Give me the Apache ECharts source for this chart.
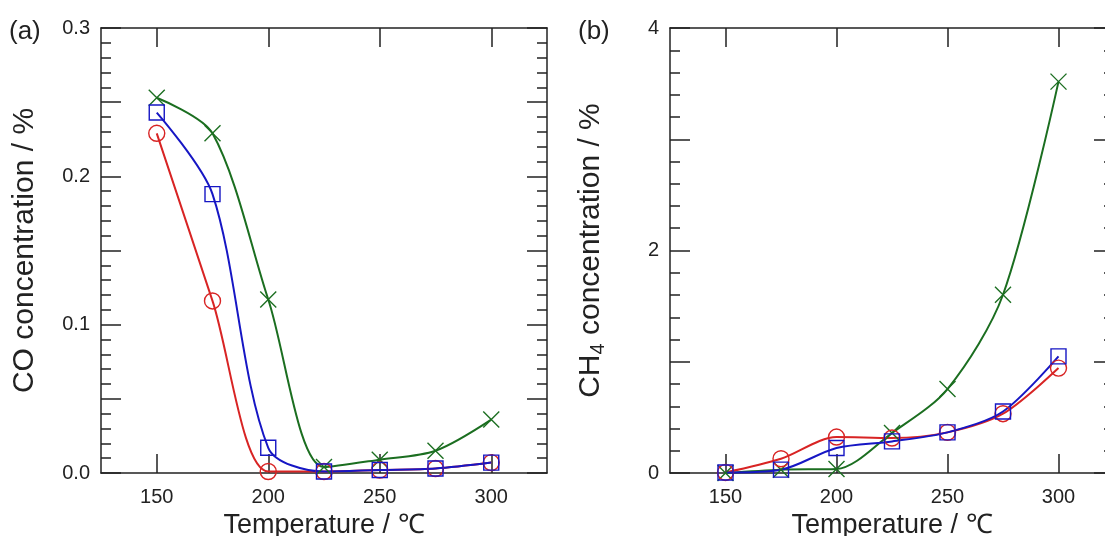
<!DOCTYPE html>
<html>
<head>
<meta charset="utf-8">
<script src="https://cdn.jsdelivr.net/npm/echarts@6/dist/echarts.min.js"></script>
<style>
html, body { margin: 0; padding: 0; background: #fff; }
#chart { width: 1105px; height: 536px; }
</style>
</head>
<body>
<div id="chart"></div>
<script>
// temperatures (deg C)
var temps = [150, 175, 200, 225, 250, 275, 300];

// (a) CO concentration / %
var coRed   = [0.229, 0.116, 0.001, 0.001, 0.002, 0.003, 0.007];
var coBlue  = [0.243, 0.188, 0.017, 0.001, 0.002, 0.003, 0.007];
var coGreen = [0.253, 0.229, 0.117, 0.004, 0.009, 0.015, 0.036];

// (b) CH4 concentration / %
var ch4Red   = [0.005, 0.128, 0.323, 0.314, 0.365, 0.533, 0.943];
var ch4Blue  = [0.005, 0.030, 0.225, 0.284, 0.365, 0.553, 1.048];
var ch4Green = [0.000, 0.030, 0.036, 0.360, 0.755, 1.602, 3.518];

var xTicks = [150, 200, 250, 300];
var coLabels = [0, 0.1, 0.2, 0.3];
var ch4Labels = [0, 2, 4];

var RED = '#d82424', BLUE = '#1616c4', GREEN = '#1b6e20';
var FONT = '"Liberation Sans", Arial, sans-serif';

function pairs(ys){
	var out = [];
	for (var i = 0; i < temps.length; i++) out.push([temps[i], ys[i]]);
	return out;
}

var axisLine = { show: true, onZero: false, lineStyle: { color: '#222', width: 1.5 } };

function xAxis(grid, top){
	return {
		type: 'value', gridIndex: grid, position: top ? 'top' : 'bottom',
		min: 125, max: 325,
		axisLine: axisLine,
		axisTick: { inside: true, length: 19, customValues: xTicks, lineStyle: { color: '#222', width: 1.5 } },
		axisLabel: { show: !top, customValues: xTicks, margin: 14, fontSize: 20, color: '#222', fontFamily: FONT },
		splitLine: { show: false },
		name: top ? '' : 'Temperature / \u2103',
		nameLocation: 'middle', nameGap: 36,
		nameTextStyle: { fontSize: 27, color: '#222', fontFamily: FONT }
	};
}

function yAxis(grid, right, max, interval, labels, fmt, name, gap){
	return {
		type: 'value', gridIndex: grid, position: right ? 'right' : 'left',
		min: 0, max: max, interval: interval,
		axisLine: axisLine,
		axisTick: { inside: true, length: 20, lineStyle: { color: '#222', width: 1.5 } },
		minorTick: { show: true, splitNumber: 5, length: 10, lineStyle: { color: '#222', width: 1.5 } },
		axisLabel: { show: !right, customValues: labels, formatter: fmt, margin: 11, fontSize: 20, color: '#222', fontFamily: FONT },
		splitLine: { show: false },
		name: right ? '' : name,
		nameLocation: 'middle', nameGap: gap,
		nameTextStyle: {
			fontSize: 30, color: '#222', fontFamily: FONT,
			rich: {
				n: { fontSize: 30, color: '#222', fontFamily: FONT },
				s: { fontSize: 20, color: '#222', fontFamily: FONT, verticalAlign: 'bottom', padding: [14, 0, 0, 0] }
			}
		}
	};
}

var marks = {
	red:   { symbol: 'circle', size: 16 },
	blue:  { symbol: 'rect', size: 15 },
	green: { symbol: 'path://M0,0L10,10M0,10L10,0', size: 16 }
};

function line(grid, ys, color, m){
	return {
		type: 'line', xAxisIndex: grid * 2, yAxisIndex: grid * 2,
		data: pairs(ys), smooth: 0.3,
		symbol: m.symbol, symbolSize: m.size, showAllSymbol: true,
		lineStyle: { color: color, width: 2 },
		itemStyle: { color: 'rgba(0,0,0,0)', borderColor: color, borderWidth: 1.4 },
		emphasis: { disabled: true },
		z: 3
	};
}

var chart = echarts.init(document.getElementById('chart'));
chart.setOption({
	animation: false,
	backgroundColor: '#fff',
	textStyle: { fontFamily: FONT },
	grid: [
		{ left: 101, top: 28, right: 558, bottom: 63, outerBoundsMode: 'none', containLabel: false },
		{ left: 670, top: 28, right: -9, bottom: 63, outerBoundsMode: 'none', containLabel: false }
	],
	xAxis: [ xAxis(0, false), xAxis(0, true), xAxis(1, false), xAxis(1, true) ],
	yAxis: [
		yAxis(0, false, 0.3, 0.05, coLabels, function(v){ return v.toFixed(1); }, 'CO concentration / %', 61),
		yAxis(0, true, 0.3, 0.05, coLabels),
		yAxis(1, false, 4, 1, ch4Labels, function(v){ return String(Math.round(v)); }, '{n|CH}{s|4}{n| concentration / %}', 62),
		yAxis(1, true, 4, 1, ch4Labels)
	],
	graphic: [
		{ type: 'text', left: 9, top: 19, style: { text: '(a)', fontSize: 26, fill: '#222', fontFamily: FONT } },
		{ type: 'text', left: 578, top: 19, style: { text: '(b)', fontSize: 26, fill: '#222', fontFamily: FONT } }
	],
	series: [
		line(0, coGreen, GREEN, marks.green),
		line(0, coRed, RED, marks.red),
		line(0, coBlue, BLUE, marks.blue),
		line(1, ch4Green, GREEN, marks.green),
		line(1, ch4Red, RED, marks.red),
		line(1, ch4Blue, BLUE, marks.blue)
	]
});
</script>
</body>
</html>
